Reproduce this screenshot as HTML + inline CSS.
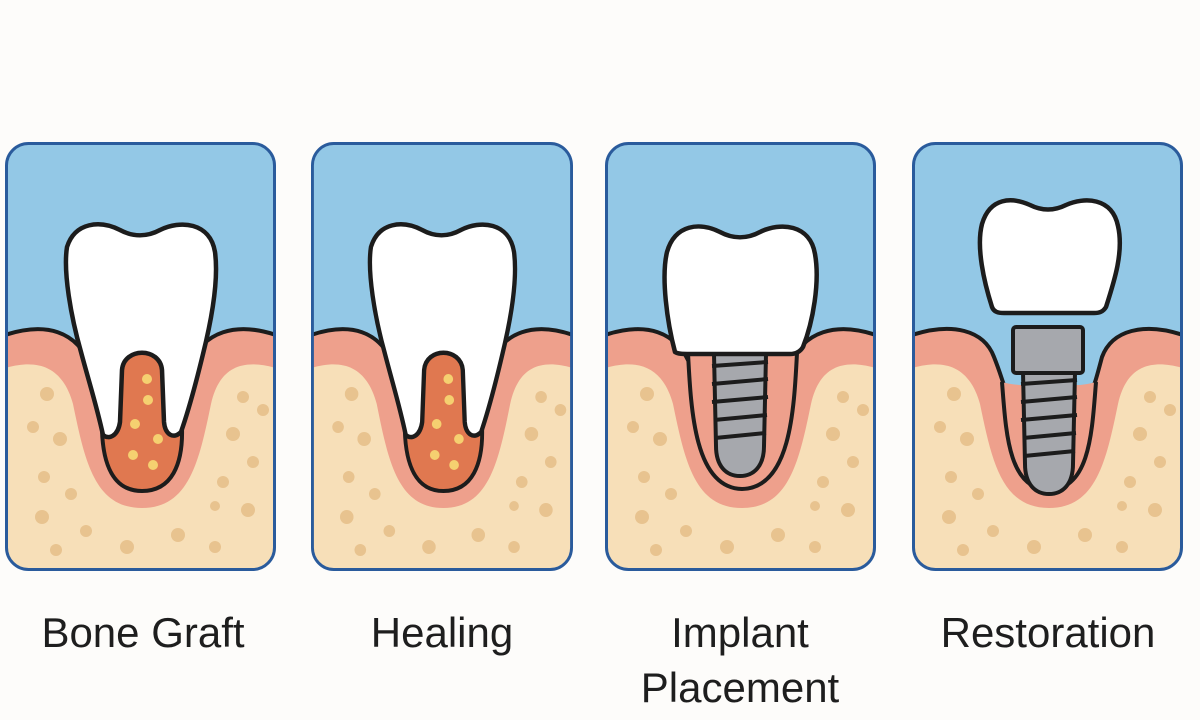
<!DOCTYPE html>
<html><head><meta charset="utf-8"><style>
html,body{margin:0;padding:0;background:#fdfcfa;}
body{width:1200px;height:720px;position:relative;overflow:hidden;font-family:"Liberation Sans",sans-serif;}
svg.p{position:absolute;top:142px;}
.lbl{position:absolute;font-size:42px;color:#1e1e1e;text-align:center;width:320px;line-height:55px;}
</style></head><body>
<svg width="0" height="0" style="position:absolute">
<defs>
<clipPath id="cp"><rect x="1.5" y="1.5" width="268" height="426" rx="22"/></clipPath>
<g id="bg">
<rect x="0" y="0" width="271" height="429" fill="#93c8e6"/>
<path d="M0,193 C40,180 72,188 86,225 L184,225 C198,188 232,180 271,193 L271,429 L0,429Z" fill="#eea08c"/>
<path d="M0,226 C35,216 58,226 68,262 C80,320 90,366 137,366 C184,366 194,320 206,262 C214,226 236,216 271,226 L271,429 L0,429Z" fill="#f7dfb8"/>
<g fill="#e8c38f">
<circle cx="42" cy="252" r="7"/><circle cx="28" cy="285" r="6"/><circle cx="55" cy="297" r="7"/><circle cx="39" cy="335" r="6"/><circle cx="66" cy="352" r="6"/><circle cx="37" cy="375" r="7"/><circle cx="81" cy="389" r="6"/><circle cx="51" cy="408" r="6"/><circle cx="122" cy="405" r="7"/><circle cx="173" cy="393" r="7"/><circle cx="210" cy="405" r="6"/><circle cx="210" cy="364" r="5"/><circle cx="243" cy="368" r="7"/><circle cx="218" cy="340" r="6"/><circle cx="248" cy="320" r="6"/><circle cx="228" cy="292" r="7"/><circle cx="258" cy="268" r="6"/><circle cx="238" cy="255" r="6"/>
</g>
</g>
<g id="gumline" fill="none" stroke="#1c1c1c" stroke-width="4">
<path d="M0,193 C40,180 72,188 86,225"/><path d="M184,225 C198,188 232,180 271,193"/>
</g>
<g id="toothgraft">
<path d="M97,288 C98,322 108,349 137,349 C167,349 178,322 177,286 L160,280 L158,228 C156,205 118,205 116,228 L114,282Z" fill="#e07850" stroke="#1c1c1c" stroke-width="4"/>
<g fill="#f5d070"><circle cx="142" cy="237" r="5"/><circle cx="143" cy="258" r="5"/><circle cx="130" cy="282" r="5"/><circle cx="153" cy="297" r="5"/><circle cx="128" cy="313" r="5"/><circle cx="148" cy="323" r="5"/></g>
<path d="M98,293 C92,265 84,240 76,210 C66,175 58,130 62,105 C70,80 95,78 115,88 C128,95 142,95 155,88 C175,78 205,80 210,110 C214,140 206,180 198,212 C190,245 183,270 176,290 C168,298 160,292 159,280 L157,228 C155,205 119,205 117,228 L115,280 C113,294 104,298 98,293Z" fill="#fff" stroke="#1c1c1c" stroke-width="4.5" stroke-linejoin="round"/>
</g>
<g id="screw" stroke="#1c1c1c" stroke-width="4" stroke-linejoin="round">
<path d="M0,0 L52,0 L50,92 C50,112 40,122 26,122 C12,122 2,112 2,92Z" fill="#a6a8ad"/>
<g fill="none" stroke-width="4"><path d="M-2,12 L54,8"/><path d="M-2,30 L54,25"/><path d="M-2,48 L54,43"/><path d="M0,66 L53,61"/><path d="M1,84 L52,79"/></g>
</g>
</defs>
</svg>

<!-- Panel 1 -->
<svg class="p" style="left:5px" width="271" height="429" viewBox="0 0 271 429">
<g clip-path="url(#cp)"><use href="#bg"/><use href="#gumline"/><use href="#toothgraft"/></g>
<rect x="1.5" y="1.5" width="268" height="426" rx="22" fill="none" stroke="#2a5b9c" stroke-width="3"/>
</svg>
<!-- Panel 2 -->
<svg class="p" style="left:311px" width="262" height="429" viewBox="0 0 271 429" preserveAspectRatio="none">
<g clip-path="url(#cp)"><use href="#bg"/><use href="#gumline"/><use href="#toothgraft"/></g>
<rect x="1.5" y="1.5" width="268" height="426" rx="22" fill="none" stroke="#2a5b9c" stroke-width="3"/>
</svg>
<!-- Panel 3 -->
<svg class="p" style="left:605px" width="271" height="429" viewBox="0 0 271 429">
<g clip-path="url(#cp)"><use href="#bg"/><use href="#gumline"/>
<path d="M83,211 C86,270 90,346 137,347 C185,346 189,270 192,211" fill="#eea08c" stroke="#1c1c1c" stroke-width="4"/>
<g transform="translate(109,212)"><use href="#screw"/></g>
<path d="M70,210 C62,180 56,135 62,110 C70,82 95,80 115,90 C128,97 142,97 155,90 C175,80 205,82 210,112 C215,140 208,180 198,205 C195,210 190,212 185,212 L85,212 C78,212 73,212 70,210Z" fill="#fff" stroke="#1c1c1c" stroke-width="4.5" stroke-linejoin="round"/>
</g>
<rect x="1.5" y="1.5" width="268" height="426" rx="22" fill="none" stroke="#2a5b9c" stroke-width="3"/>
</svg>
<!-- Panel 4 -->
<svg class="p" style="left:912px" width="271" height="429" viewBox="0 0 271 429">
<g clip-path="url(#cp)"><use href="#bg"/>
<path d="M80,215 C86,228 90,236 92,243 L182,243 C184,236 188,228 192,215Z" fill="#93c8e6"/>
<path d="M0,193 C40,180 72,188 82,215 C88,230 90,238 92,243" fill="none" stroke="#1c1c1c" stroke-width="4"/>
<path d="M271,193 C232,180 200,188 190,215 C186,230 184,238 182,243" fill="none" stroke="#1c1c1c" stroke-width="4"/>
<path d="M90,240 C94,290 96,347 137,348 C178,347 180,290 184,240 C165,246 110,246 90,240Z" fill="#eea08c"/>
<path d="M90,240 C94,290 96,347 137,348 C178,347 180,290 184,240" fill="none" stroke="#1c1c1c" stroke-width="4"/>
<g transform="translate(111,230)"><use href="#screw"/></g>
<rect x="101" y="185" width="70" height="46" rx="3" fill="#a6a8ad" stroke="#1c1c1c" stroke-width="4"/>
<path d="M80,165 C72,140 64,105 70,82 C78,55 100,55 118,63 C130,69 142,69 154,63 C172,55 200,55 206,84 C212,110 202,140 194,165 C191,170 187,171 182,171 L92,171 C86,171 82,170 80,165Z" fill="#fff" stroke="#1c1c1c" stroke-width="4.5" stroke-linejoin="round"/>
</g>
<rect x="1.5" y="1.5" width="268" height="426" rx="22" fill="none" stroke="#2a5b9c" stroke-width="3"/>
</svg>

<div class="lbl" style="left:-17px;top:605px">Bone Graft</div>
<div class="lbl" style="left:282px;top:605px">Healing</div>
<div class="lbl" style="left:580px;top:605px">Implant<br>Placement</div>
<div class="lbl" style="left:888px;top:605px">Restoration</div>
</body></html>
